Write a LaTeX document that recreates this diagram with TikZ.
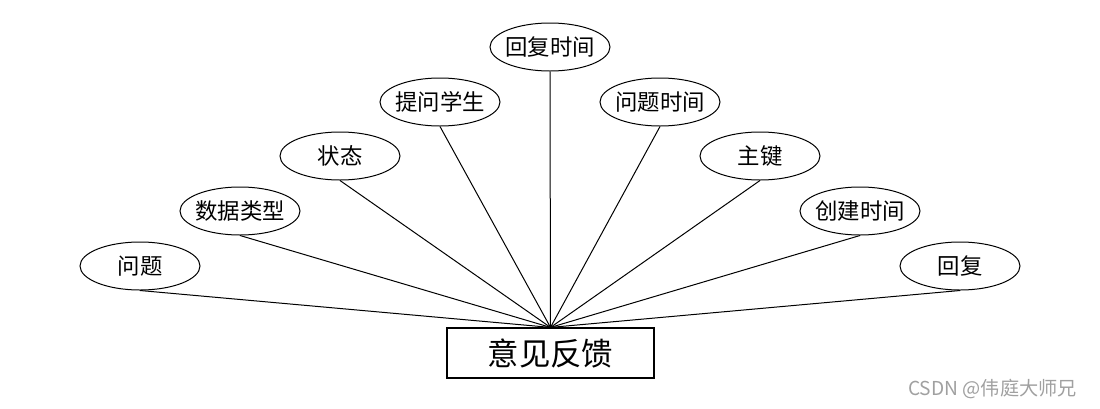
\documentclass[tikz,border=0pt]{standalone}
\usepackage{fontspec}
\usepackage{xcolor}
\usepackage{tikz}
\usetikzlibrary{shapes.geometric}
\newfontfamily\cjk{Noto Sans CJK SC}
\definecolor{ER_Line}{HTML}{000000}
\definecolor{ER_Mark}{HTML}{A0A0A0}

\begin{document}
\begin{tikzpicture}[
  x=0.5pt, y=-0.5pt,
  every node/.style={font=\cjk\fontsize{11.2}{13}\selectfont},
  attr/.style={draw=ER_Line, ellipse, line width=0.5pt, inner xsep=-3pt,
    inner ysep=0pt, minimum width=60pt, minimum height=24pt},
  entity/.style={draw=ER_Line, rectangle, line width=0.6pt, inner sep=0pt,
    minimum width=103.5pt, minimum height=25pt,
    font=\cjk\fontsize{15.7}{18}\selectfont},
  link/.style={line width=0.5pt, ER_Line}
]
  \useasboundingbox (0,0) rectangle (1100,408);

  % Entity
  \node[entity] (fk) at (550.5,353) {意见反馈};

  % Attributes, left side
  \node[attr] (wt) at (140,266) {问题};
  \node[attr] (sjlx) at (240,211) {数据类型};
  \node[attr] (zt) at (340,156) {状态};
  \node[attr] (twxs) at (440,102) {提问学生};

  % Top attribute
  \node[attr] (hfsj) at (550,47) {回复时间};

  % Attributes, right side
  \node[attr] (wtsj) at (660,102) {问题时间};
  \node[attr] (zj) at (760,156) {主键};
  \node[attr] (cjsj) at (860,211) {创建时间};
  \node[attr] (hf) at (960,266) {回复};

  % Links
  \draw[link] (wt.south) -- (fk.north);
  \draw[link] (sjlx.south) -- (fk.north);
  \draw[link] (zt.south) -- (fk.north);
  \draw[link] (twxs.south) -- (fk.north);
  \draw[link] (hfsj.south) -- (fk.north);
  \draw[link] (wtsj.south) -- (fk.north);
  \draw[link] (zj.south) -- (fk.north);
  \draw[link] (cjsj.south) -- (fk.north);
  \draw[link] (hf.south) -- (fk.north);

  % Watermark
  \node[ER_Mark, anchor=east, font=\cjk\fontsize{9.6}{11}\selectfont] (mark)
    at (1084,389) {CSDN @伟庭大师兄};
\end{tikzpicture}
\end{document}
